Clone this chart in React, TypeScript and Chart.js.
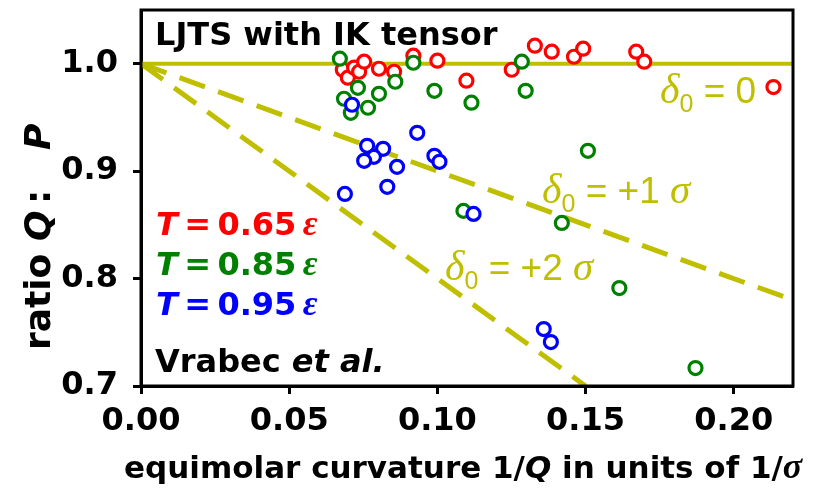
import React, { useEffect, useRef } from "react";
import { Chart, registerables } from "chart.js";

Chart.register(...registerables);

// Curvature 1/Q (units of 1/sigma) and ratio Q:P for each temperature
const redX = [0.0681, 0.0698, 0.0719, 0.0736, 0.0753, 0.0803, 0.0854, 0.0919, 0.1, 0.1098, 0.1251, 0.1329, 0.1386, 0.1461, 0.1492, 0.1671, 0.1698, 0.2134];
const redY = [0.9944, 0.987, 0.9963, 0.9925, 1.0019, 0.9953, 0.9925, 1.0075, 1.0028, 0.9842, 0.9944, 1.0168, 1.0112, 1.0065, 1.014, 1.0112, 1.0019, 0.9783];

const greenX = [0.0671, 0.0732, 0.0685, 0.0708, 0.0766, 0.0803, 0.0858, 0.0919, 0.099, 0.1115, 0.1285, 0.1298, 0.1508, 0.1088, 0.142, 0.1614, 0.1871];
const greenY = [1.0047, 0.9776, 0.9674, 0.9543, 0.959, 0.972, 0.9832, 1.0009, 0.9748, 0.9637, 1.0019, 0.9748, 0.9189, 0.863, 0.8518, 0.7912, 0.7167];

const blueX = [0.0712, 0.0688, 0.0763, 0.0817, 0.0786, 0.0753, 0.0864, 0.0831, 0.0932, 0.099, 0.1007, 0.1122, 0.1359, 0.1383];
const blueY = [0.9618, 0.8788, 0.9236, 0.9208, 0.9133, 0.9096, 0.904, 0.8854, 0.9357, 0.9143, 0.9087, 0.8602, 0.753, 0.7409];

// Tolman-length reference lines: start and end points
const delta0Line = [{ x: 0, y: 1.0 }, { x: 0.22, y: 1.0 }];
const delta1Line = [{ x: 0, y: 1.0 }, { x: 0.22, y: 0.78 }];
const delta2Line = [{ x: 0, y: 1.0 }, { x: 0.15, y: 0.7 }];

const xTicks = [0, 0.05, 0.1, 0.15, 0.2];
const yTicks = [0.7, 0.8, 0.9, 1.0];

const RED = "#ff0000";
const GREEN = "#008000";
const BLUE = "#0000ff";
const OLIVE = "#bfbf00";

const SANS_B = "bold 32px 'DejaVu Sans'";
const SANS_BI = "italic bold 32px 'DejaVu Sans'";
const EPS = "italic bold 36px 'Liberation Serif'";

type Run = { t: string; f: string; dy?: number };

function drawRuns(ctx: CanvasRenderingContext2D, x: number, y: number, runs: Run[], color: string) {
  ctx.fillStyle = color;
  ctx.textBaseline = "alphabetic";
  ctx.textAlign = "left";
  let cx = x;
  for (const r of runs) {
    ctx.font = r.f;
    ctx.fillText(r.t, cx, y + (r.dy || 0));
    cx += ctx.measureText(r.t).width;
  }
}

const pts = (xs: number[], ys: number[]) => xs.map((x, i) => ({ x, y: ys[i] }));

const labelsPlugin = {
  id: "labels",
  afterDraw(chart: any) {
    const ctx = chart.ctx as CanvasRenderingContext2D;
    const a = chart.chartArea;
    ctx.save();
    // plot frame
    ctx.strokeStyle = "#000";
    ctx.lineWidth = 3;
    ctx.strokeRect(a.left, a.top, a.right - a.left, a.bottom - a.top);

    drawRuns(ctx, 155, 45, [{ t: "LJTS with IK tensor", f: SANS_B }], "#000");

    const legend: [string, string][] = [["0.65", RED], ["0.85", GREEN], ["0.95", BLUE]];
    legend.forEach(([v, c], i) => {
      drawRuns(ctx, 156, 235 + i * 40, [
        { t: "T", f: SANS_BI },
        { t: "\u2009=\u2009", f: SANS_B },
        { t: v + "\u2009", f: SANS_B },
        { t: "ε", f: EPS },
      ], c);
    });
    drawRuns(ctx, 155, 372, [
      { t: "Vrabec ", f: SANS_B },
      { t: "et al.", f: SANS_BI },
    ], "#000");

    const dLabel = (x: number, y: number, rest: string, sigma: boolean) => {
      const runs: Run[] = [
        { t: "δ", f: "italic 42px 'Liberation Serif'" },
        { t: "0", f: "25px 'Liberation Sans'", dy: 9 },
        { t: rest, f: "37px 'Liberation Sans'" },
      ];
      if (sigma) runs.push({ t: "σ", f: "italic 41px 'Liberation Serif'" });
      drawRuns(ctx, x, y, runs, OLIVE);
    };
    dLabel(660, 103, " = 0", false);
    dLabel(542, 203, " = +1 ", true);
    dLabel(445, 280, " = +2 ", true);

    // x axis title
    drawRuns(ctx, 124, 478, [
      { t: "equimolar curvature 1/", f: "bold 31px 'DejaVu Sans'" },
      { t: "Q", f: "italic bold 31px 'DejaVu Sans'" },
      { t: " in units of 1/", f: "bold 31px 'DejaVu Sans'" },
      { t: "σ", f: "italic bold 36px 'Liberation Serif'" },
    ], "#000");

    // y axis title, read bottom to top
    ctx.translate(50, 350);
    ctx.rotate(-Math.PI / 2);
    const yb = "bold 36px 'DejaVu Sans'";
    const ybi = "italic bold 36px 'DejaVu Sans'";
    drawRuns(ctx, 0, 0, [{ t: "ratio", f: yb }], "#000");
    drawRuns(ctx, 109, 0, [{ t: "Q", f: ybi }], "#000");
    drawRuns(ctx, 146, 0, [{ t: ":", f: yb }], "#000");
    drawRuns(ctx, 200, 0, [{ t: "P", f: ybi }], "#000");
    ctx.restore();
  },
};

export default function App() {
  const ref = useRef<HTMLCanvasElement | null>(null);

  useEffect(() => {
    document.body.style.margin = "0";
    const canvas = ref.current;
    if (!canvas) return;

    const pointStyle = (c: string, order: number, data: any[], label: string) => ({
      type: "scatter" as const,
      label,
      data,
      order,
      borderColor: c,
      backgroundColor: "#ffffff",
      pointRadius: 6.5,
      pointBorderWidth: 3.2,
      showLine: false,
    });
    const refLine = (data: any[], dash: number[], w: number, order: number) => ({
      type: "line" as const,
      data,
      order,
      borderColor: OLIVE,
      borderWidth: w,
      borderDash: dash,
      borderCapStyle: "butt" as const,
      pointRadius: 0,
      fill: false,
      tension: 0,
    });

    const chart = new Chart(canvas, {
      type: "scatter",
      data: {
        datasets: [
          refLine(delta0Line, [], 4, 6),
          refLine(delta1Line, [27, 14], 5, 5),
          refLine(delta2Line, [27, 14], 5, 4),
          pointStyle(RED, 3, pts(redX, redY), "T = 0.65"),
          pointStyle(GREEN, 2, pts(greenX, greenY), "T = 0.85"),
          pointStyle(BLUE, 1, pts(blueX, blueY), "T = 0.95"),
        ] as any,
      },
      options: {
        responsive: false,
        devicePixelRatio: 1,
        animation: false,
        layout: { padding: { top: 10, right: 32, left: 0, bottom: 0 } },
        plugins: { legend: { display: false }, tooltip: { enabled: false } },
        scales: {
          x: {
            type: "linear",
            min: 0,
            max: 0.22,
            afterFit: (s: any) => {
              s.height = 107;
              s.paddingLeft = 0;
              s.paddingRight = 0;
            },
            afterBuildTicks: (s: any) => { s.ticks = xTicks.map((v) => ({ value: v })); },
            ticks: {
              callback: (v: any) => Number(v).toFixed(2),
              font: { family: "DejaVu Sans", size: 32, weight: "bold" },
              color: "#000",
              padding: 8,
              maxRotation: 0,
            },
            grid: { drawOnChartArea: false, drawTicks: true, tickLength: 8, tickWidth: 3, tickColor: "#000" },
            border: { display: true, width: 3, color: "#000" },
          },
          y: {
            type: "linear",
            min: 0.7,
            max: 1.05,
            afterFit: (s: any) => {
              s.width = 141;
              s.paddingTop = 0;
              s.paddingBottom = 0;
            },
            afterBuildTicks: (s: any) => { s.ticks = yTicks.map((v) => ({ value: v })); },
            ticks: {
              callback: (v: any) => Number(v).toFixed(1),
              font: { family: "DejaVu Sans", size: 32, weight: "bold" },
              color: "#000",
              padding: 15,
            },
            grid: { drawOnChartArea: false, drawTicks: true, tickLength: 8, tickWidth: 3, tickColor: "#000" },
            border: { display: true, width: 3, color: "#000" },
          },
        },
      },
      plugins: [labelsPlugin],
    });
    return () => chart.destroy();
  }, []);

  return (
    <div style={{ width: 825, height: 493, background: "#fff" }}>
      <canvas ref={ref} width={825} height={493} />
    </div>
  );
}
